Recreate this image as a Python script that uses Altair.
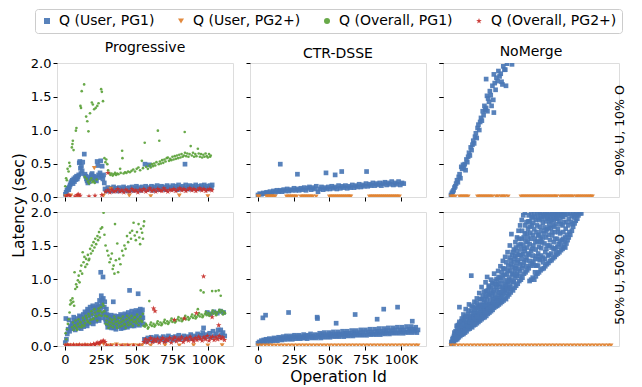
import altair as alt
import pandas as pd

# ---------------- categories / labels ----------------
SERIES = ["Q (User, PG1)", "Q (User, PG2+)", "Q (Overall, PG1)", "Q (Overall, PG2+)"]
APPROACHES = ["Progressive", "CTR-DSSE", "NoMerge"]
WORKLOADS = ["90% U, 10% O", "50% U, 50% O"]
X_TICKS = [0, 25, 50, 75, 100]          # operation id, thousands
Y_TICKS = [0.0, 0.5, 1.0, 1.5, 2.0]     # latency, seconds

# ---------------- data: (operation id in K, latency in sec) ----------------
# Progressive, 90% U 10% O
PROG90_USER_PG1 = [
    (0.3, 0.04), (0.8, 0.07), (1.4, 0.1), (2.0, 0.13), (2.6, 0.11), (3.1, 0.15), (3.6, 0.18), (4.1, 0.21),
    (4.6, 0.23), (5.1, 0.25), (5.6, 0.2), (6.1, 0.27), (6.6, 0.23), (7.1, 0.29), (7.6, 0.26), (8.1, 0.31),
    (8.6, 0.27), (9.1, 0.3), (9.6, 0.33), (10.0, 0.51), (10.4, 0.53), (10.8, 0.43), (11.1, 0.35), (11.5, 0.46),
    (12.0, 0.39), (12.4, 0.52), (13.5, 0.64), (14.0, 0.34), (14.5, 0.31), (15.0, 0.27), (15.5, 0.24), (16.0, 0.21),
    (16.5, 0.26), (17.0, 0.23), (17.5, 0.3), (18.0, 0.27), (18.5, 0.33), (19.0, 0.35), (19.5, 0.29), (20.0, 0.31),
    (20.5, 0.27), (21.0, 0.26), (21.5, 0.3), (22.0, 0.24), (22.5, 0.53), (23.0, 0.47), (23.5, 0.33), (24.0, 0.29),
    (24.5, 0.36), (25.0, 0.54), (25.5, 0.31), (26.0, 0.46), (26.5, 0.27), (27.0, 0.33), (27.5, 0.21),
    (28.0, 0.12), (29.0, 0.09), (30.0, 0.14), (31.0, 0.1), (32.0, 0.13), (33.0, 0.09), (34.0, 0.15), (35.0, 0.11),
    (36.0, 0.13), (37.0, 0.09), (38.0, 0.14), (39.0, 0.1), (40.0, 0.12), (41.0, 0.15), (42.0, 0.1), (43.0, 0.13),
    (44.0, 0.09), (45.0, 0.14), (46.0, 0.11), (47.0, 0.15), (48.0, 0.1), (49.0, 0.13), (50.0, 0.16), (51.0, 0.11),
    (52.0, 0.14), (53.0, 0.1), (54.0, 0.15), (55.0, 0.12), (56.0, 0.49), (56.5, 0.16), (57.5, 0.11), (58.5, 0.14),
    (59.0, 0.48), (59.5, 0.12), (60.5, 0.16), (61.5, 0.1), (62.5, 0.15), (63.5, 0.12), (64.5, 0.17), (65.5, 0.11),
    (66.5, 0.14), (67.5, 0.16), (68.5, 0.12), (69.5, 0.15), (70.5, 0.11), (71.5, 0.17), (72.5, 0.13), (73.5, 0.15),
    (74.5, 0.12), (75.5, 0.17), (76.5, 0.13), (77.5, 0.16), (78.5, 0.11), (79.5, 0.18), (80.5, 0.14), (81.5, 0.12),
    (82.5, 0.16), (83.5, 0.13), (84.0, 0.49), (84.5, 0.18), (85.5, 0.12), (86.5, 0.15), (87.5, 0.17), (88.5, 0.12),
    (89.5, 0.16), (90.5, 0.14), (91.5, 0.18), (92.5, 0.13), (93.5, 0.16), (94.5, 0.12), (95.5, 0.17), (96.5, 0.14),
    (97.5, 0.18), (98.5, 0.13), (99.5, 0.16), (100.5, 0.12), (101.5, 0.17), (102.5, 0.14), (103.0, 0.18),
]
PROG90_USER_PG2 = [
    (0.5, 0.01), (4.0, 0.02), (9.0, 0.01), (20.5, 0.43), (27.0, 0.02), (32.0, 0.12), (45.0, 0.02),
    (60.0, 0.01), (80.0, 0.02), (100.0, 0.01),
]
PROG90_OVERALL_PG1 = [
    (0.2, 0.16), (0.8, 0.28), (1.3, 0.25), (1.8, 0.42), (2.5, 0.38), (3.0, 0.51), (3.5, 0.46), (4.8, 0.74),
    (5.2, 0.79), (5.5, 0.84), (6.0, 0.7), (7.6, 0.99), (8.0, 1.03), (10.8, 1.36), (11.2, 1.33), (11.7, 1.58),
    (13.4, 1.68), (14.8, 1.2), (15.6, 1.13), (16.4, 0.98), (17.5, 1.25), (18.8, 1.41), (19.5, 1.38), (20.4, 1.31),
    (21.5, 1.33), (22.6, 1.36), (23.5, 1.4), (25.3, 1.61), (25.8, 1.57), (26.6, 1.43),
    (13.8, 0.3), (15.2, 0.27), (16.0, 0.23), (16.8, 0.2), (17.6, 0.25), (18.4, 0.28), (19.2, 0.22), (20.0, 0.24),
    (20.8, 0.21), (22.2, 0.26),
    (27.6, 0.58), (28.3, 0.52), (28.9, 0.56), (29.6, 0.49), (30.2, 0.4), (31.0, 0.36), (31.8, 0.33), (32.6, 0.35),
    (33.4, 0.32), (34.2, 0.34), (35.0, 0.36), (35.8, 0.33), (36.6, 0.35), (37.4, 0.34), (38.6, 0.42), (39.0, 0.36),
    (40.0, 0.69), (40.2, 0.58), (41.0, 0.35), (42.0, 0.37), (43.0, 0.36), (44.2, 0.38), (45.4, 0.37), (46.6, 0.39),
    (47.8, 0.41), (49.0, 0.38), (50.2, 0.42), (51.4, 0.44), (52.6, 0.4), (53.8, 0.54), (54.6, 0.43), (55.8, 0.81),
    (56.8, 0.45), (58.0, 0.42), (59.2, 0.47),
    (60.0, 0.44), (60.8, 0.49), (61.6, 0.46), (62.4, 0.5), (63.2, 0.47), (64.0, 0.52), (65.0, 0.99), (65.6, 0.49),
    (66.0, 0.84), (66.4, 0.53), (67.2, 0.5), (68.0, 0.55), (68.8, 0.51), (69.6, 0.56), (70.4, 0.53), (71.2, 0.58),
    (72.0, 0.59), (72.8, 0.54), (73.6, 0.57), (74.4, 0.55), (75.2, 0.6), (76.0, 0.56), (76.8, 0.61), (77.6, 0.57),
    (78.4, 0.62), (79.2, 0.58), (80.0, 0.63), (80.8, 0.59), (81.6, 0.64), (82.4, 0.6), (83.2, 0.62), (83.8, 0.97),
    (84.0, 0.66), (84.8, 0.61), (85.6, 0.65), (86.4, 0.6), (87.2, 0.64), (88.0, 0.76), (88.8, 0.62), (89.6, 0.66),
    (90.4, 0.6), (91.2, 0.64), (92.0, 0.61), (93.0, 0.72), (93.6, 0.65), (94.4, 0.6), (95.2, 0.64), (96.0, 0.59),
    (96.8, 0.63), (97.6, 0.6), (98.4, 0.65), (99.2, 0.61), (100.0, 0.59), (100.8, 0.64), (101.6, 0.6), (102.0, 0.62),
]
PROG90_OVERALL_PG2 = [
    (0.8, 0.01), (2.2, 0.03), (3.4, 0.02), (7.0, 0.01), (8.6, 0.03), (9.6, 0.04), (10.6, 0.02), (16.8, 0.01),
    (21.0, 0.02), (25.8, 0.03), (30.0, 0.36),
    (28.4, 0.08), (30.0, 0.1), (31.4, 0.07), (32.8, 0.11), (34.2, 0.08), (35.6, 0.09), (37.0, 0.12), (38.4, 0.08),
    (39.8, 0.1), (41.2, 0.07), (42.6, 0.11), (44.0, 0.09), (45.4, 0.08), (46.8, 0.12), (48.2, 0.09), (49.6, 0.1),
    (51.0, 0.07), (52.4, 0.11), (53.8, 0.09), (55.2, 0.12), (56.6, 0.08), (58.0, 0.1), (59.4, 0.13), (60.8, 0.09),
    (62.2, 0.11), (63.6, 0.08), (65.0, 0.12), (66.4, 0.1), (67.8, 0.09), (69.2, 0.13), (70.6, 0.1), (72.0, 0.08),
    (73.4, 0.11), (74.8, 0.1), (76.2, 0.12), (77.6, 0.09), (79.0, 0.11), (80.4, 0.13), (81.8, 0.1), (83.2, 0.12),
    (84.6, 0.09), (86.0, 0.11), (87.4, 0.13), (88.8, 0.1), (90.2, 0.12), (91.6, 0.09), (93.0, 0.11), (94.4, 0.13),
    (95.8, 0.1), (97.2, 0.12), (98.6, 0.09), (100.0, 0.11), (101.4, 0.12), (102.8, 0.1),
]

# Progressive, 50% U 50% O
PROG50_USER_PG1 = [
    (0.2, 0.05), (0.6, 0.41), (1.0, 0.1), (1.6, 0.18), (2.2, 0.25), (2.8, 0.39), (3.2, 0.22), (3.8, 0.3),
    (4.4, 0.27), (5.0, 0.34), (5.6, 0.31), (6.2, 0.38), (6.8, 0.29), (7.4, 0.35), (8.0, 0.32), (8.6, 0.41),
    (9.2, 0.3), (9.8, 0.37), (10.4, 0.33), (11.0, 0.43), (11.6, 0.31), (12.2, 0.39), (12.8, 0.47), (13.4, 0.35),
    (14.0, 0.51), (14.6, 0.4), (15.2, 0.33), (15.8, 0.55), (16.4, 0.44), (17.0, 0.37), (17.6, 0.58), (18.2, 0.46),
    (18.8, 0.39), (19.4, 0.6), (20.0, 0.48), (20.6, 0.4), (21.2, 0.56), (21.8, 0.43), (22.4, 0.62), (23.0, 0.5),
    (23.6, 0.41), (24.2, 0.68), (24.8, 0.55), (25.4, 0.75), (25.0, 1.1), (26.0, 0.62), (26.6, 1.03), (26.8, 0.71),
    (27.2, 0.48), (27.8, 0.66), (28.4, 0.4), (29.0, 0.55), (29.6, 0.33), (30.2, 0.45), (30.8, 0.29), (31.4, 0.4),
    (32.0, 0.35), (32.6, 0.27), (33.2, 0.43), (33.8, 0.66), (34.4, 0.31), (35.0, 0.38), (35.6, 0.25), (36.2, 0.42),
    (36.8, 0.34), (37.4, 0.29), (38.0, 0.44), (38.6, 0.36), (39.2, 0.26), (39.8, 0.4), (40.4, 0.33), (41.0, 0.45),
    (41.6, 0.28), (42.2, 0.38), (42.8, 0.35), (43.4, 0.46), (44.0, 0.3), (44.6, 0.41), (45.2, 0.83), (45.8, 0.36),
    (46.4, 0.47), (47.0, 0.3), (47.6, 0.43), (48.2, 0.38), (48.8, 0.5), (49.4, 0.32), (50.0, 0.45), (50.6, 0.39),
    (51.2, 0.78), (51.8, 0.52), (52.4, 0.35), (53.0, 0.48), (53.6, 0.41), (54.2, 0.54), (54.8, 0.33),
    (55.6, 0.1), (56.8, 0.07), (58.0, 0.12), (59.2, 0.09), (60.4, 0.13), (61.6, 0.08), (62.8, 0.11), (64.0, 0.14),
    (65.2, 0.09), (66.4, 0.12), (67.6, 0.1), (68.8, 0.14), (70.0, 0.08), (71.2, 0.12), (72.4, 0.15), (73.6, 0.1),
    (74.8, 0.13), (76.0, 0.09), (77.2, 0.14), (78.4, 0.11), (79.6, 0.16), (80.8, 0.1), (82.0, 0.13), (83.2, 0.15),
    (84.4, 0.11), (85.6, 0.14), (86.8, 0.12), (88.0, 0.17), (89.2, 0.11), (90.4, 0.15), (91.6, 0.13), (92.8, 0.18),
    (94.0, 0.12), (95.2, 0.16), (96.4, 0.2), (97.0, 0.27), (97.6, 0.13), (98.8, 0.17), (99.6, 0.5), (100.0, 0.14),
    (101.2, 0.19), (101.8, 0.48), (102.4, 0.13), (103.6, 0.22), (104.2, 0.51), (104.8, 0.15), (106.0, 0.18),
    (106.6, 0.49), (107.2, 0.24), (108.4, 0.14), (108.8, 0.52), (109.0, 0.24), (109.6, 0.17), (110.6, 0.2),
    (111.0, 0.5), (111.8, 0.15),
]
PROG50_USER_PG1_DENSE = [
    (5.3, 0.26), (6.1, 0.43), (7.1, 0.24), (7.9, 0.36), (9.5, 0.27), (10.1, 0.45), (11.3, 0.26), (12.5, 0.34),
    (13.1, 0.29), (13.8, 0.42), (14.9, 0.48), (15.5, 0.3), (16.1, 0.52), (16.9, 0.34), (17.3, 0.49), (18.5, 0.36),
    (19.1, 0.52), (19.8, 0.33), (20.4, 0.57), (21.5, 0.37), (22.1, 0.52), (22.7, 0.45), (23.3, 0.58), (23.9, 0.38),
    (24.5, 0.6), (25.1, 0.48), (25.7, 0.68), (26.3, 0.42), (27.5, 0.58), (28.1, 0.5), (28.7, 0.36), (29.3, 0.47),
    (29.9, 0.28), (30.5, 0.38), (31.1, 0.42), (31.7, 0.3), (32.3, 0.46), (32.9, 0.33), (33.5, 0.37), (34.1, 0.27),
    (34.7, 0.45), (35.3, 0.33), (35.9, 0.4), (36.5, 0.3), (37.1, 0.44), (37.7, 0.36), (38.3, 0.31), (38.9, 0.47),
    (39.5, 0.35), (40.1, 0.42), (40.7, 0.27), (41.3, 0.36), (41.9, 0.48), (42.5, 0.32), (43.1, 0.41), (43.7, 0.28),
    (44.3, 0.5), (44.9, 0.35), (45.5, 0.43), (46.1, 0.31), (46.7, 0.52), (47.3, 0.37), (47.9, 0.46), (48.5, 0.3),
    (49.1, 0.44), (49.7, 0.53), (50.3, 0.36), (50.9, 0.49), (51.5, 0.42), (52.1, 0.31), (52.7, 0.55), (53.3, 0.38),
    (53.9, 0.47), (54.5, 0.42),
]
PROG50_USER_PG2 = [
    (0.5, 0.005), (3.0, 0.01), (6.0, 0.005), (9.0, 0.01), (12.0, 0.005), (15.0, 0.01), (18.0, 0.005),
    (21.0, 0.01), (24.0, 0.02), (27.0, 0.03), (30.0, 0.005), (33.0, 0.01), (36.0, 0.02), (39.0, 0.005),
    (42.0, 0.01), (45.0, 0.005), (48.0, 0.01), (51.0, 0.005), (54.0, 0.01), (60.0, 0.005), (70.0, 0.01),
    (80.0, 0.005), (90.0, 0.01), (100.0, 0.005), (110.0, 0.01),
]
PROG50_OVERALL_PG1 = [
    (0.4, 0.19), (0.9, 0.1), (1.4, 0.25), (2.0, 0.33), (2.6, 0.4), (3.2, 0.5), (3.6, 0.62), (4.0, 0.68),
    (4.6, 0.64), (5.2, 0.71), (5.8, 0.66), (6.4, 0.6), (6.7, 1.1), (7.2, 0.85), (7.8, 0.92), (8.4, 0.88),
    (9.0, 0.98), (9.6, 1.05), (10.2, 0.95), (10.8, 1.12), (11.4, 1.2), (12.0, 1.08), (12.4, 1.4), (13.0, 1.25),
    (13.6, 1.33), (14.2, 1.18), (14.8, 1.3), (15.4, 1.22), (16.0, 1.36), (16.6, 1.28), (17.0, 1.3), (17.6, 1.45),
    (18.2, 1.38), (18.8, 1.5), (19.4, 1.42), (20.0, 1.55), (20.6, 1.47), (21.2, 1.6), (21.8, 1.52), (22.7, 1.64),
    (23.2, 1.58), (23.8, 1.7), (24.4, 1.62), (25.0, 1.75), (26.0, 1.77), (27.0, 1.99), (27.6, 1.66), (28.4, 1.5),
    (29.6, 1.42), (30.4, 1.35), (31.2, 1.25), (32.0, 1.3), (32.8, 1.38), (33.4, 1.15), (34.0, 1.2), (34.6, 1.08),
    (35.0, 1.82), (35.6, 1.28), (36.6, 1.53), (37.2, 1.1), (38.0, 1.3), (38.8, 1.22), (40.0, 1.42), (40.8, 1.35),
    (41.6, 1.5), (42.4, 1.45), (43.4, 1.64), (44.2, 1.55), (45.5, 1.69), (46.2, 1.6), (47.0, 1.72), (48.0, 1.84),
    (48.8, 1.65), (49.6, 1.58), (50.4, 1.7), (51.5, 1.82), (52.0, 1.62), (52.6, 1.52), (53.2, 1.75), (54.0, 1.69),
    (54.6, 1.6), (55.0, 1.79), (55.4, 1.86),
    (5.0, 0.28), (6.0, 0.24), (7.0, 0.3), (8.0, 0.27), (9.0, 0.33), (10.0, 0.29), (11.0, 0.35), (12.0, 0.31),
    (13.0, 0.38), (14.0, 0.34), (15.0, 0.42), (16.0, 0.36), (17.0, 0.44), (18.0, 0.39), (19.0, 0.47), (20.0, 0.41),
    (21.0, 0.5), (22.0, 0.44), (23.0, 0.52), (24.0, 0.46), (25.0, 0.58), (26.0, 0.5), (27.0, 0.6), (28.0, 0.45),
    (29.0, 0.38), (30.0, 0.32), (31.0, 0.36), (32.0, 0.3), (33.0, 0.39), (34.0, 0.33), (35.0, 0.4), (36.0, 0.31),
    (37.0, 0.37), (38.0, 0.34), (39.0, 0.41), (40.0, 0.3), (41.0, 0.38), (42.0, 0.32), (43.0, 0.4), (44.0, 0.35),
    (45.0, 0.42), (46.0, 0.33), (47.0, 0.39), (48.0, 0.36), (49.0, 0.43), (50.0, 0.34), (51.0, 0.4), (52.0, 0.37),
    (53.0, 0.44), (54.0, 0.36), (55.0, 0.3),
    (56.0, 0.29), (57.2, 0.31), (58.4, 0.28), (59.0, 0.67), (59.6, 0.32), (60.8, 0.3), (62.0, 0.33), (63.2, 0.31),
    (64.4, 0.34), (65.6, 0.32), (66.8, 0.35), (68.0, 0.33), (69.2, 0.36), (70.4, 0.34), (71.6, 0.37), (72.8, 0.35),
    (74.0, 0.38), (75.2, 0.36), (76.4, 0.39), (77.6, 0.37), (78.8, 0.4), (80.0, 0.38), (81.2, 0.41), (82.4, 0.39),
    (83.6, 0.42), (84.8, 0.4), (86.0, 0.43), (87.2, 0.41), (88.4, 0.44), (89.6, 0.42), (90.8, 0.45), (92.0, 0.43),
    (93.0, 0.55), (93.2, 0.46), (94.4, 0.44), (95.0, 0.83), (95.6, 0.47), (96.8, 0.45), (97.0, 0.8), (98.0, 0.48),
    (99.2, 0.46), (100.4, 0.49), (101.6, 0.47), (102.8, 0.5), (103.0, 0.82), (104.0, 0.48), (105.2, 0.51),
    (105.5, 0.82), (106.4, 0.49), (107.6, 0.83), (107.8, 0.52), (108.8, 0.5), (109.0, 0.75), (110.0, 0.53),
    (111.2, 0.51), (112.0, 0.49),
]
PROG50_OVERALL_PG1_DENSE = [
    (5.5, 0.35), (6.5, 0.31), (7.5, 0.38), (8.5, 0.24), (9.5, 0.4), (10.5, 0.36), (11.5, 0.28), (12.5, 0.42),
    (13.5, 0.3), (14.5, 0.45), (15.5, 0.38), (16.5, 0.48), (17.5, 0.34), (18.5, 0.52), (19.5, 0.4), (20.5, 0.55),
    (21.5, 0.45), (22.5, 0.38), (23.5, 0.56), (24.5, 0.52), (25.5, 0.45), (26.5, 0.63), (27.5, 0.52), (28.5, 0.33),
    (29.5, 0.44), (30.5, 0.27), (31.5, 0.41), (32.5, 0.35), (33.5, 0.28), (34.5, 0.44), (35.5, 0.36), (36.5, 0.27),
    (37.5, 0.42), (38.5, 0.29), (39.5, 0.36), (40.5, 0.44), (41.5, 0.33), (42.5, 0.27), (43.5, 0.45), (44.5, 0.31),
    (45.5, 0.38), (46.5, 0.45), (47.5, 0.3), (48.5, 0.42), (49.5, 0.37), (50.5, 0.47), (51.5, 0.31), (52.5, 0.43),
    (53.5, 0.38), (54.5, 0.48),
    (56.6, 0.33), (58.0, 0.26), (60.2, 0.35), (62.6, 0.29), (64.9, 0.37), (67.4, 0.31), (69.8, 0.39), (72.2, 0.33),
    (74.6, 0.41), (77.0, 0.35), (79.4, 0.43), (81.8, 0.37), (84.2, 0.45), (86.6, 0.39), (89.0, 0.47), (91.4, 0.41),
    (93.8, 0.49), (96.2, 0.43), (98.6, 0.51), (101.0, 0.45), (103.4, 0.53), (105.8, 0.46), (108.2, 0.54),
    (110.6, 0.47),
]
PROG50_OVERALL_PG2 = [
    (0.5, 0.01), (2.0, 0.02), (4.0, 0.01), (6.0, 0.02), (8.0, 0.01), (10.0, 0.02), (12.0, 0.01), (14.0, 0.02),
    (16.0, 0.01), (18.0, 0.02), (20.0, 0.03), (21.0, 0.02), (22.0, 0.04), (23.0, 0.05), (24.0, 0.04), (25.0, 0.06),
    (26.0, 0.07), (27.0, 0.08), (28.0, 0.06), (29.0, 0.01), (32.0, 0.005), (36.0, 0.01), (40.0, 0.005),
    (44.0, 0.01), (48.0, 0.005), (52.0, 0.01),
    (55.2, 0.06), (56.4, 0.1), (57.6, 0.05), (58.8, 0.09), (60.0, 0.12), (61.2, 0.06), (62.0, 0.56), (62.4, 0.1),
    (63.0, 0.52), (63.6, 0.07), (64.8, 0.11), (66.0, 0.05), (67.2, 0.09), (68.4, 0.12), (69.6, 0.06), (70.8, 0.1),
    (72.0, 0.08), (73.2, 0.12), (74.4, 0.05), (75.6, 0.1), (76.6, 0.39), (76.8, 0.13), (78.0, 0.07), (79.2, 0.11),
    (80.4, 0.09), (81.6, 0.13), (82.8, 0.06), (83.5, 0.41), (84.0, 0.1), (85.2, 0.12), (86.4, 0.08), (87.6, 0.14),
    (88.8, 0.1), (90.0, 0.07), (91.2, 0.12), (92.0, 0.49), (92.4, 0.09), (93.6, 0.14), (94.8, 0.11), (96.0, 0.08),
    (97.0, 1.04), (97.2, 0.13), (98.4, 0.1), (99.6, 0.15), (100.8, 0.08), (102.0, 0.12), (103.0, 0.43),
    (103.2, 0.14), (104.4, 0.09), (105.6, 0.13), (106.8, 0.1), (107.6, 0.31), (108.0, 0.15), (109.2, 0.11),
    (110.4, 0.13), (111.6, 0.09),
]

# CTR-DSSE, 90% U 10% O
CTR90_USER_PG1 = [
    (0.0, 0.03), (1.2, 0.05), (2.4, 0.04), (3.6, 0.06), (4.8, 0.05), (6.0, 0.07), (7.2, 0.05), (8.4, 0.08),
    (9.6, 0.06), (10.8, 0.09), (12.0, 0.07), (13.2, 0.1), (14.4, 0.08), (15.6, 0.49), (15.6, 0.1), (16.8, 0.08),
    (18.0, 0.11), (19.2, 0.09), (20.4, 0.12), (21.6, 0.09), (22.8, 0.11), (24.0, 0.1), (25.2, 0.13), (26.4, 0.1),
    (27.6, 0.34), (27.6, 0.12), (28.8, 0.1), (30.0, 0.13), (31.2, 0.11), (32.4, 0.14), (33.6, 0.1), (34.8, 0.13),
    (36.0, 0.15), (37.2, 0.11), (38.4, 0.14), (39.6, 0.12), (40.8, 0.16), (42.0, 0.08), (43.2, 0.12), (44.4, 0.15),
    (45.6, 0.11), (46.8, 0.14), (47.6, 0.36), (48.0, 0.12), (49.2, 0.15), (50.4, 0.12), (51.6, 0.16), (52.8, 0.13),
    (54.0, 0.33), (54.0, 0.15), (55.2, 0.12), (56.4, 0.17), (57.6, 0.13), (58.6, 0.38), (58.8, 0.16), (60.0, 0.14),
    (61.2, 0.17), (62.4, 0.13), (63.6, 0.16), (64.8, 0.14), (66.0, 0.18), (67.2, 0.14), (68.4, 0.17), (69.6, 0.15),
    (70.8, 0.19), (72.0, 0.15), (73.2, 0.18), (74.4, 0.16), (75.6, 0.2), (76.0, 0.38), (76.8, 0.16), (78.0, 0.19),
    (79.2, 0.17), (80.4, 0.21), (81.6, 0.17), (82.8, 0.2), (84.0, 0.18), (85.2, 0.21), (86.4, 0.17), (87.6, 0.2),
    (88.8, 0.22), (90.0, 0.18), (91.2, 0.21), (92.4, 0.19), (93.6, 0.23), (94.8, 0.18), (96.0, 0.21), (97.2, 0.19),
    (98.4, 0.23), (99.6, 0.18), (100.8, 0.21), (102.0, 0.2),
]
CTR90_USER_PG2 = [
    (0.0, 0.005), (0.8, 0.005), (6.0, 0.005), (7.2, 0.005), (8.4, 0.005), (9.6, 0.005), (10.8, 0.005),
    (12.0, 0.005), (20.0, 0.005), (21.4, 0.005), (22.8, 0.005), (24.2, 0.005), (25.6, 0.005), (27.0, 0.005),
    (30.0, 0.005), (31.4, 0.005), (32.8, 0.005), (34.2, 0.005), (35.6, 0.005), (37.0, 0.005), (38.4, 0.005),
    (40.7, 0.005), (50.0, 0.005), (51.4, 0.005), (52.8, 0.005), (54.2, 0.005), (55.6, 0.005), (57.0, 0.005),
    (58.4, 0.005), (59.8, 0.005), (61.2, 0.005), (62.6, 0.005), (64.0, 0.005), (65.0, 0.005), (78.0, 0.005),
    (79.4, 0.005), (80.8, 0.005), (82.2, 0.005), (83.6, 0.005), (85.0, 0.005), (86.4, 0.005), (87.8, 0.005),
    (89.2, 0.005), (90.6, 0.005), (92.0, 0.005), (93.4, 0.005), (94.8, 0.005), (96.2, 0.005), (97.6, 0.005),
    (99.0, 0.005),
]

# CTR-DSSE, 50% U 50% O
CTR50_USER_PG1 = [
    (0.0, 0.04), (0.8, 0.06), (1.6, 0.05), (2.4, 0.08), (3.2, 0.06), (3.4, 0.42), (4.0, 0.09), (4.8, 0.07),
    (5.3, 0.46), (5.6, 0.1), (6.4, 0.06), (7.2, 0.09), (8.0, 0.11), (8.8, 0.07), (9.6, 0.1), (10.4, 0.08),
    (11.2, 0.12), (12.0, 0.09), (12.8, 0.11), (13.6, 0.08), (14.4, 0.13), (15.2, 0.1), (16.0, 0.12), (16.8, 0.09),
    (17.6, 0.14), (18.4, 0.1), (19.2, 0.12), (20.0, 0.15), (20.8, 0.1), (21.4, 0.5), (21.6, 0.13), (22.4, 0.11),
    (23.2, 0.15), (24.0, 0.1), (24.8, 0.13), (25.6, 0.16), (26.4, 0.11), (27.2, 0.14), (28.0, 0.12), (28.8, 0.16),
    (29.6, 0.11), (30.4, 0.14), (31.2, 0.12), (32.0, 0.17), (32.8, 0.12), (33.6, 0.15), (34.4, 0.11), (35.2, 0.16),
    (36.0, 0.13), (36.8, 0.18), (37.6, 0.12), (38.4, 0.15), (39.2, 0.13), (40.0, 0.17), (40.8, 0.12), (41.4, 0.43),
    (41.6, 0.41), (41.8, 0.16), (42.4, 0.14), (43.2, 0.19), (44.0, 0.12), (44.8, 0.17), (45.6, 0.14), (46.4, 0.2),
    (47.2, 0.13), (48.0, 0.17), (48.8, 0.14), (49.6, 0.2), (50.4, 0.13), (51.2, 0.18), (52.0, 0.15), (52.8, 0.21),
    (53.6, 0.14), (54.4, 0.18), (54.7, 0.34), (55.2, 0.15), (56.0, 0.21), (56.8, 0.14), (57.6, 0.18), (58.4, 0.16),
    (59.2, 0.22), (60.0, 0.14), (60.8, 0.19), (61.6, 0.16), (62.4, 0.22), (63.2, 0.15), (64.0, 0.19), (64.8, 0.16),
    (65.6, 0.23), (66.4, 0.15), (67.2, 0.2), (68.0, 0.47), (68.0, 0.17), (68.8, 0.23), (69.6, 0.16), (70.4, 0.2),
    (71.2, 0.17), (72.0, 0.24), (72.8, 0.16), (73.6, 0.21), (74.4, 0.17), (75.2, 0.24), (76.0, 0.16), (76.8, 0.21),
    (77.6, 0.18), (78.4, 0.25), (79.2, 0.17), (80.0, 0.21), (80.8, 0.18), (81.6, 0.25), (82.4, 0.17), (83.2, 0.22),
    (83.4, 0.4), (84.0, 0.19), (84.8, 0.26), (85.6, 0.17), (86.4, 0.22), (87.2, 0.19), (88.0, 0.55), (88.0, 0.26),
    (88.8, 0.18), (89.6, 0.23), (90.4, 0.2), (91.2, 0.27), (92.0, 0.18), (92.8, 0.23), (93.6, 0.2), (94.4, 0.27),
    (95.2, 0.19), (96.0, 0.24), (96.8, 0.2), (97.6, 0.28), (97.7, 0.58), (98.4, 0.19), (99.2, 0.24), (100.0, 0.21),
    (100.8, 0.28), (101.6, 0.19), (102.4, 0.24), (103.2, 0.21), (104.0, 0.29), (104.8, 0.2), (105.6, 0.25),
    (106.4, 0.22), (107.2, 0.29), (108.0, 0.37), (108.0, 0.2), (108.8, 0.25), (109.6, 0.22), (110.4, 0.28),
    (111.2, 0.2), (112.0, 0.24),
]
CTR50_USER_PG2 = [
    (0.0, 0.005), (2.5, 0.005), (5.0, 0.005), (7.5, 0.005), (10.0, 0.005), (12.5, 0.005), (15.0, 0.005),
    (17.5, 0.005), (20.0, 0.005), (22.5, 0.005), (25.0, 0.005), (27.5, 0.005), (30.0, 0.005), (32.5, 0.005),
    (35.0, 0.005), (37.5, 0.005), (40.0, 0.005), (42.5, 0.005), (45.0, 0.005), (47.5, 0.005), (50.0, 0.005),
    (52.5, 0.005), (55.0, 0.005), (57.5, 0.005), (60.0, 0.005), (62.5, 0.005), (65.0, 0.005), (67.5, 0.005),
    (70.0, 0.005), (72.5, 0.005), (75.0, 0.005), (77.5, 0.005), (80.0, 0.005), (82.5, 0.005), (85.0, 0.005),
    (87.5, 0.005), (90.0, 0.005), (92.5, 0.005), (95.0, 0.005), (97.5, 0.005), (100.0, 0.005), (102.5, 0.005),
    (105.0, 0.005), (107.5, 0.005), (110.0, 0.005), (112.0, 0.005),
]

# NoMerge, 90% U 10% O
NOMERGE90_USER_PG1 = [
    (0.0, 0.03), (0.6, 0.06), (1.2, 0.08), (1.8, 0.1), (2.4, 0.14), (3.0, 0.16), (3.6, 0.2), (4.2, 0.25),
    (4.8, 0.22), (5.4, 0.3), (6.0, 0.34), (6.6, 0.28), (7.2, 0.45), (7.8, 0.42), (8.4, 0.48), (9.0, 0.44),
    (9.6, 0.49), (10.2, 0.4), (10.8, 0.56), (11.4, 0.52), (12.0, 0.6), (12.6, 0.66), (13.2, 0.62), (13.8, 0.74),
    (14.4, 0.7), (15.0, 0.78), (15.6, 0.84), (16.2, 0.8), (16.8, 0.9), (17.4, 0.95), (18.0, 0.88), (18.6, 1.03),
    (19.2, 1.08), (19.8, 1.0), (20.4, 1.12), (21.0, 1.18), (21.6, 1.14), (22.2, 1.28), (22.8, 1.22), (23.4, 1.36),
    (24.0, 1.3), (24.6, 1.33), (24.6, 1.76), (25.2, 1.51), (25.5, 1.28), (26.0, 1.47), (26.6, 1.42), (27.2, 1.58),
    (27.8, 1.52), (28.4, 1.36), (29.0, 1.66), (29.6, 1.45), (30.0, 1.83), (30.0, 1.26), (30.6, 1.7), (31.2, 1.6),
    (31.8, 1.78), (32.6, 1.73), (33.2, 1.88), (34.0, 1.8), (34.8, 1.84), (35.4, 1.72), (36.0, 1.68), (36.6, 1.95),
    (37.4, 1.9), (38.0, 1.9), (38.5, 1.66), (39.2, 1.99), (42.7, 1.98),
]
NOMERGE90_USER_PG2 = [
    (0.0, 0.005), (1.5, 0.005), (3.0, 0.005), (6.0, 0.005), (7.5, 0.005), (9.0, 0.005), (10.5, 0.005),
    (12.0, 0.005), (18.6, 0.005), (20.0, 0.005), (21.5, 0.005), (23.0, 0.005), (24.5, 0.005), (26.0, 0.005),
    (27.5, 0.005), (29.0, 0.005), (31.5, 0.005), (33.0, 0.005), (35.0, 0.005), (36.5, 0.005), (38.0, 0.005),
    (40.0, 0.005), (49.0, 0.005), (50.5, 0.005), (52.0, 0.005), (53.5, 0.005), (55.0, 0.005), (56.5, 0.005),
    (58.0, 0.005), (59.5, 0.005), (61.0, 0.005), (62.5, 0.005), (64.0, 0.005), (65.5, 0.005), (67.0, 0.005),
    (68.5, 0.005), (70.0, 0.005), (71.5, 0.005), (73.0, 0.005), (74.0, 0.005), (76.5, 0.005), (78.0, 0.005),
    (79.5, 0.005), (81.0, 0.005), (82.5, 0.005), (84.0, 0.005), (85.5, 0.005), (87.6, 0.005), (89.0, 0.005),
    (90.5, 0.005), (92.0, 0.005), (93.5, 0.005), (95.0, 0.005), (96.5, 0.005), (98.0, 0.005), (99.0, 0.005),
]

# NoMerge, 50% U 50% O
NOMERGE50_USER_PG1 = [
    (0.3, 0.03), (0.3, 0.06), (0.9, 0.05), (1.4, 0.08), (1.4, 0.12), (2.1, 0.07), (2.1, 0.15), (2.7, 0.1),
    (2.7, 0.18), (3.2, 0.09), (3.2, 0.22), (3.2, 0.14), (3.9, 0.12), (3.9, 0.2), (4.3, 0.1), (4.3, 0.27),
    (4.8, 0.16), (4.8, 0.31), (5.4, 0.13), (5.4, 0.24), (5.9, 0.19), (5.9, 0.36), (5.9, 0.58), (6.5, 0.15),
    (6.5, 0.29), (7.0, 0.22), (7.0, 0.33), (7.6, 0.17), (7.6, 0.41), (8.1, 0.25), (8.1, 0.2), (8.7, 0.18),
    (8.7, 0.37), (8.7, 0.47), (9.2, 0.29), (9.2, 0.23), (9.8, 0.2), (9.8, 0.43), (10.3, 0.34), (10.3, 0.26),
    (10.3, 0.55), (10.9, 0.22), (10.9, 0.31), (11.5, 0.4), (11.5, 0.27), (12.0, 0.25), (12.0, 0.48),
    (12.0, 0.34), (12.6, 0.3), (12.6, 0.62), (13.1, 0.26), (13.1, 0.39), (13.7, 0.45), (13.7, 0.33),
    (13.7, 0.29), (14.2, 1.05), (14.2, 0.52), (14.2, 0.3), (14.8, 0.37), (14.8, 0.28), (15.3, 0.44),
    (15.3, 0.58), (15.9, 0.31), (15.9, 0.4), (16.4, 0.5), (16.4, 0.35), (16.4, 0.66), (17.0, 0.32),
    (17.0, 0.46), (17.6, 0.57), (17.6, 0.38), (18.1, 0.34), (18.1, 0.71), (18.1, 0.49), (18.7, 0.42),
    (18.7, 0.6), (19.2, 0.36), (19.2, 0.53), (19.8, 0.47), (19.8, 0.79), (19.8, 0.4), (20.3, 0.38),
    (20.3, 0.62), (20.9, 0.55), (20.9, 0.44), (21.4, 0.4), (21.4, 0.7), (21.4, 0.88), (22.0, 0.5), (22.0, 0.61),
    (22.5, 0.42), (22.5, 0.57), (23.1, 0.66), (23.1, 0.47), (23.1, 0.81), (23.6, 0.43), (23.6, 0.59),
    (24.2, 0.74), (24.2, 0.52), (24.2, 0.95), (24.7, 0.45), (24.7, 0.64), (25.3, 1.03), (25.3, 0.56),
    (25.3, 0.7), (25.8, 0.48), (25.8, 0.83), (26.4, 0.62), (26.4, 0.51), (26.4, 0.9), (26.9, 0.76), (26.9, 0.5),
    (27.5, 0.55), (27.5, 0.68), (28.0, 0.86), (28.0, 0.52), (28.0, 0.99), (28.6, 0.63), (28.6, 0.74),
    (29.1, 0.54), (29.1, 0.8), (29.7, 0.92), (29.7, 0.6), (29.7, 0.7), (30.2, 0.57), (30.2, 1.08), (30.8, 0.77),
    (30.8, 0.66), (31.3, 0.59), (31.3, 0.88), (31.9, 1.0), (31.9, 0.71), (31.9, 0.62), (32.4, 0.83), (32.4, 0.6),
    (33.0, 0.65), (33.0, 1.12), (33.0, 0.93), (33.5, 0.76), (33.5, 0.62), (34.1, 0.88), (34.1, 0.69),
    (34.6, 0.64), (34.6, 1.19), (34.6, 1.02), (35.2, 0.8), (35.2, 0.72), (35.7, 0.93), (35.7, 0.66),
    (36.3, 1.27), (36.3, 0.78), (36.3, 1.05), (36.8, 0.68), (36.8, 0.87), (37.4, 0.98), (37.4, 1.15),
    (37.9, 0.72), (37.9, 0.83), (37.9, 1.33), (38.5, 0.92), (38.5, 0.7), (39.0, 1.08), (39.0, 0.79), (39.6, 1.4),
    (39.6, 0.74), (39.6, 0.96), (40.1, 0.86), (40.1, 1.2), (40.7, 0.77), (40.7, 1.02), (41.2, 1.5), (41.2, 0.92),
    (41.2, 1.12), (41.8, 0.8), (41.8, 1.28), (42.3, 1.67), (42.3, 0.99), (42.3, 0.85), (42.9, 1.18), (42.9, 1.36),
    (43.4, 0.83), (43.4, 1.06), (44.0, 1.44), (44.0, 0.95), (44.0, 1.25), (44.5, 0.87), (44.5, 1.12),
    (45.1, 1.55), (45.1, 1.02), (45.1, 1.34), (45.6, 0.9), (45.6, 1.19), (46.2, 1.62), (46.2, 1.08),
    (46.2, 1.42), (46.7, 0.93), (46.7, 1.28), (47.3, 1.15), (47.3, 1.72), (47.3, 1.5), (47.8, 0.97), (47.8, 1.36),
    (48.4, 1.22), (48.4, 1.8), (48.4, 1.05), (48.9, 1.44), (48.9, 0.99), (49.5, 1.6), (49.5, 1.3), (49.5, 1.88),
    (50.0, 1.02), (50.0, 1.16), (50.6, 1.5), (50.6, 1.95), (50.6, 1.37), (51.1, 1.08), (51.1, 1.25),
    (51.7, 1.68), (51.7, 1.42), (51.7, 1.99), (52.2, 1.1), (52.2, 1.56), (52.8, 1.32), (52.8, 1.85),
    (52.8, 1.19), (53.3, 1.47), (53.3, 1.13), (53.9, 1.75), (53.9, 1.62), (53.9, 1.38), (54.4, 1.16),
    (54.4, 1.95), (55.0, 0.97), (55.0, 1.27), (55.0, 1.52), (55.0, 1.86), (55.5, 1.2), (55.5, 1.69),
    (56.1, 0.99), (56.1, 1.42), (56.1, 1.99), (56.6, 1.23), (56.6, 1.8), (57.2, 1.02), (57.2, 1.35),
    (57.2, 1.66), (57.2, 1.92), (57.7, 1.26), (57.7, 1.5), (58.3, 0.99), (58.3, 1.74), (58.3, 1.98),
    (58.8, 1.1), (58.8, 1.3), (58.8, 1.6), (59.4, 1.04), (59.4, 1.44), (59.4, 1.88), (59.9, 1.34), (59.9, 1.7),
    (60.5, 1.08), (60.5, 1.56), (60.5, 1.97), (61.0, 1.2), (61.0, 1.38), (61.0, 1.91), (61.6, 1.1), (61.6, 1.66),
    (61.6, 1.48), (62.1, 1.28), (62.1, 1.78), (62.1, 1.99), (62.7, 1.13), (62.7, 1.6), (62.7, 1.94),
    (63.2, 1.46), (63.2, 1.72), (63.8, 1.15), (63.8, 1.98), (63.8, 1.55), (64.3, 1.32), (64.3, 1.84),
    (64.9, 1.16), (64.9, 1.68), (64.9, 1.93), (65.4, 1.53), (65.4, 1.77), (66.0, 1.19), (66.0, 1.4), (66.0, 1.97),
    (66.5, 1.62), (66.5, 1.86), (67.1, 1.22), (67.1, 1.74), (67.1, 1.99), (67.6, 1.5), (67.6, 1.9), (68.2, 1.24),
    (68.2, 1.66), (68.2, 1.95), (68.7, 1.36), (68.7, 1.82), (69.3, 1.27), (69.3, 1.58), (69.3, 1.98),
    (69.8, 1.76), (69.8, 1.92), (70.4, 1.28), (70.4, 1.47), (70.4, 1.86), (70.9, 1.65), (70.9, 1.99),
    (71.5, 1.31), (71.5, 1.8), (71.5, 1.94), (72.0, 1.55), (72.0, 1.88), (72.6, 1.33), (72.6, 1.7), (72.6, 1.99),
    (73.1, 1.46), (73.1, 1.92), (73.7, 1.36), (73.7, 1.82), (73.7, 1.97), (74.2, 1.6), (74.2, 1.9), (74.8, 1.38),
    (74.8, 1.75), (74.8, 1.99), (75.3, 1.52), (75.3, 1.95), (75.9, 1.4), (75.9, 1.86), (76.4, 1.68), (76.4, 1.98),
    (77.0, 1.43), (77.0, 1.92), (77.5, 1.58), (77.5, 1.99), (78.1, 1.45), (78.1, 1.8), (78.1, 1.96), (78.6, 1.7),
    (78.6, 1.93), (79.2, 1.48), (79.2, 1.99), (80.0, 1.47), (80.0, 1.62), (80.0, 1.96), (80.8, 1.53),
    (80.8, 1.85), (81.6, 1.58), (81.6, 1.97), (82.4, 1.62), (82.4, 1.9), (83.5, 1.66), (83.5, 1.98),
    (84.6, 1.72), (84.6, 1.94), (85.5, 1.78), (85.5, 1.99), (86.5, 1.83), (87.3, 1.87), (87.3, 1.97),
    (88.4, 1.9), (89.2, 1.95), (90.5, 1.98),
]
NOMERGE50_USER_PG1_DENSE = [
    (1.1, 0.1), (1.7, 0.06), (2.4, 0.2), (3.5, 0.17), (4.0, 0.3), (4.6, 0.12), (5.1, 0.21), (5.7, 0.33),
    (6.2, 0.2), (6.8, 0.26), (7.3, 0.37), (7.9, 0.29), (8.4, 0.23), (9.0, 0.4), (9.5, 0.33), (10.0, 0.24),
    (10.6, 0.45), (11.2, 0.35), (11.8, 0.3), (12.3, 0.53), (12.9, 0.43), (13.4, 0.36), (14.0, 0.41), (14.5, 0.6),
    (15.1, 0.33), (15.6, 0.49), (16.1, 0.43), (16.7, 0.55), (17.3, 0.4), (17.9, 0.64), (18.4, 0.45), (19.0, 0.57),
    (19.5, 0.43), (20.1, 0.7), (20.6, 0.5), (21.2, 0.6), (21.7, 0.47), (22.3, 0.75), (22.8, 0.53), (23.4, 0.69),
    (23.9, 0.5), (24.5, 0.82), (25.0, 0.6), (25.6, 0.77), (26.1, 0.55), (26.7, 0.88), (27.2, 0.62), (27.8, 0.79),
    (28.3, 0.58), (28.9, 0.94), (29.4, 0.66), (30.0, 0.84), (30.5, 0.62), (31.1, 0.97), (31.6, 0.72), (32.2, 0.91),
    (32.7, 0.68), (33.3, 1.03), (33.8, 0.8), (34.4, 0.98), (34.9, 0.74), (35.5, 1.1), (36.0, 0.86), (36.6, 1.16),
    (37.1, 0.8), (37.7, 1.06), (38.2, 0.9), (38.8, 1.25), (39.3, 0.85), (39.9, 1.13), (40.4, 0.98), (41.0, 1.32),
    (41.5, 0.88), (42.1, 1.22), (42.6, 1.08), (43.2, 1.4), (43.7, 0.96), (44.3, 1.3), (44.8, 1.16), (45.4, 1.47),
    (45.9, 1.05), (46.5, 1.36), (47.0, 1.25), (47.6, 1.6), (48.1, 1.12), (48.7, 1.52), (49.2, 1.36), (49.8, 1.72),
    (50.3, 1.2), (50.9, 1.62), (51.4, 1.45), (52.0, 1.8), (52.5, 1.28), (53.1, 1.68), (53.6, 1.55), (54.2, 1.86),
    (54.7, 1.36), (55.3, 1.78), (55.8, 1.6), (56.4, 1.92), (56.9, 1.45), (57.5, 1.84), (58.0, 1.2), (58.6, 1.93),
    (59.1, 1.55), (59.7, 1.2), (60.2, 1.8), (60.8, 1.65), (61.3, 1.3), (61.9, 1.88), (62.4, 1.55), (63.0, 1.35),
    (63.5, 1.9), (64.0, 1.62), (64.6, 1.25), (65.1, 1.95), (65.7, 1.3), (66.2, 1.72), (66.8, 1.45), (67.3, 1.93),
    (67.9, 1.35), (68.4, 1.76), (69.0, 1.5), (69.5, 1.88), (70.1, 1.38), (70.7, 1.7), (71.2, 1.97), (71.8, 1.45),
    (72.3, 1.78), (72.9, 1.6), (73.4, 1.4), (74.0, 1.9), (74.5, 1.48), (75.1, 1.7), (75.6, 1.98), (76.2, 1.56),
    (76.7, 1.82), (77.3, 1.5), (77.8, 1.94), (78.4, 1.6), (78.9, 1.85), (79.5, 1.55), (80.3, 1.75), (81.2, 1.66),
    (82.0, 1.8), (82.9, 1.7), (83.9, 1.85), (85.0, 1.82), (86.0, 1.92), (86.9, 1.95), (88.0, 1.96), (89.8, 1.99),
    (91.2, 1.98),
]
NOMERGE50_USER_PG2 = [
    (0.0, 0.005), (2.5, 0.005), (5.0, 0.005), (7.5, 0.005), (10.0, 0.005), (12.5, 0.005), (15.0, 0.005),
    (17.5, 0.005), (20.0, 0.005), (22.5, 0.005), (25.0, 0.005), (27.5, 0.005), (30.0, 0.005), (32.5, 0.005),
    (35.0, 0.005), (37.5, 0.005), (40.0, 0.005), (42.5, 0.005), (45.0, 0.005), (47.5, 0.005), (50.0, 0.005),
    (52.5, 0.005), (55.0, 0.005), (57.5, 0.005), (60.0, 0.005), (62.5, 0.005), (65.0, 0.005), (67.5, 0.005),
    (70.0, 0.005), (72.5, 0.005), (75.0, 0.005), (77.5, 0.005), (80.0, 0.005), (82.5, 0.005), (85.0, 0.005),
    (87.5, 0.005), (90.0, 0.005), (92.5, 0.005), (95.0, 0.005), (97.5, 0.005), (100.0, 0.005), (102.5, 0.005),
    (105.0, 0.005), (107.5, 0.005), (110.0, 0.005), (112.0, 0.005),
]

PANELS = [
    ("Progressive", "90% U, 10% O", [PROG90_USER_PG1, PROG90_USER_PG2, PROG90_OVERALL_PG1, PROG90_OVERALL_PG2]),
    ("CTR-DSSE", "90% U, 10% O", [CTR90_USER_PG1, CTR90_USER_PG2, [], []]),
    ("NoMerge", "90% U, 10% O", [NOMERGE90_USER_PG1, NOMERGE90_USER_PG2, [], []]),
    ("Progressive", "50% U, 50% O", [PROG50_USER_PG1 + PROG50_USER_PG1_DENSE, PROG50_USER_PG2,
                                     PROG50_OVERALL_PG1 + PROG50_OVERALL_PG1_DENSE, PROG50_OVERALL_PG2]),
    ("CTR-DSSE", "50% U, 50% O", [CTR50_USER_PG1, CTR50_USER_PG2, [], []]),
    ("NoMerge", "50% U, 50% O", [NOMERGE50_USER_PG1 + NOMERGE50_USER_PG1_DENSE, NOMERGE50_USER_PG2, [], []]),
]

# ---------------- styles ----------------
COLORS = ["#4a77b5", "#e0802e", "#5ba23a", "#c8302b"]
STAR = ("M0,-1L0.235,-0.324L0.951,-0.309L0.380,0.124L0.588,0.809L0,0.4L-0.588,0.809"
        "L-0.380,0.124L-0.951,-0.309L-0.235,-0.324Z")
SHAPES = ["square", "triangle-down", "circle", STAR]
SIZES = [22, 24, 7, 34]
FONT = "DejaVu Sans"
PANEL_W, PANEL_H = 176, 134

rows = []
for approach, workload, lists in PANELS:
    for s, pts in zip(SERIES, lists):
        for x, y in pts:
            rows.append({"approach": approach, "workload": workload, "series": s, "op": x, "lat": y})
df = pd.DataFrame(rows)

xscale = alt.Scale(domain=[-5.6, 117.6], nice=False, zero=False)
yscale = alt.Scale(domain=[0, 2], nice=False)

legend = alt.Legend(
    title=None, orient="none", legendX=-22, legendY=-54, direction="horizontal", columns=4,
    labelFontSize=14, labelFont=FONT, labelColor="black", strokeColor="#cccccc", fillColor="white",
    padding=5, cornerRadius=3, columnPadding=19, labelOffset=5, symbolStrokeWidth=0, symbolSize=36,
)


def panel(ri, ci):
    approach = APPROACHES[ci]
    workload = WORKLOADS[ri]
    sub = df[(df.approach == approach) & (df.workload == workload)]
    bottom = ri == 1
    left = ci == 0
    xaxis_kw = dict(values=X_TICKS, grid=False, domain=False, tickColor="black", tickSize=4, labels=bottom,
                    labelExpr="datum.value == 0 ? '0' : datum.value + 'K'", labelFontSize=13,
                    labelFont=FONT, labelColor="black", labelPadding=3)
    if bottom and ci == 1:
        xaxis_kw.update(title="Operation Id", titleFontSize=15.5, titleFont=FONT, titleFontWeight="normal",
                        titleColor="black", titlePadding=3)
    else:
        xaxis_kw.update(title=None)
    yaxis_kw = dict(orient="left", values=Y_TICKS, grid=False, domain=False, tickColor="black", tickSize=4,
                    labels=left, format=".1f", labelFontSize=13, labelFont=FONT, labelColor="black",
                    labelPadding=2)
    if left and ri == 0:
        yaxis_kw.update(title="Latency (sec)", titleFontSize=15.5, titleFont=FONT, titleFontWeight="normal",
                        titleColor="black", titleY=142, titlePadding=4)
    else:
        yaxis_kw.update(title=None)

    layers = []
    for s, size in zip(SERIES, SIZES):
        part = sub[sub.series == s]
        if len(part) == 0:
            continue
        layers.append(
            alt.Chart(part).mark_point(filled=True, opacity=0.92, clip=True, strokeWidth=0, size=size).encode(
                x=alt.X("op:Q", scale=xscale, axis=alt.Axis(**xaxis_kw)),
                y=alt.Y("lat:Q", scale=yscale, axis=alt.Axis(**yaxis_kw)),
                color=alt.Color("series:N", scale=alt.Scale(domain=SERIES, range=COLORS), legend=legend),
                shape=alt.Shape("series:N", scale=alt.Scale(domain=SERIES, range=SHAPES), legend=legend),
            )
        )
    if ci == 2:
        layers.append(alt.Chart(sub).mark_point(opacity=0).encode(
            x=alt.X("op:Q", scale=xscale, axis=None),
            y=alt.Y("lat:Q", scale=yscale, axis=alt.Axis(
                orient="right", title=workload, labels=False, ticks=False, domain=False, grid=False,
                titleAngle=270, titleFontSize=12.5, titleFont=FONT, titleFontWeight="normal",
                titleColor="black", titlePadding=7)),
        ))
    props = dict(width=PANEL_W, height=PANEL_H)
    if ri == 0:
        props["title"] = alt.TitleParams(approach, fontSize=14, font=FONT, fontWeight="normal",
                                         color="black", offset=2)
    return alt.layer(*layers).properties(**props)


panels = [panel(r, c) for r in range(2) for c in range(3)]

chart = alt.concat(*panels, columns=3, spacing={"row": 15, "column": 17}, bounds="flush").properties(
    padding={"left": 2, "top": 0, "right": 0, "bottom": 0}
).configure_view(stroke="#222222", strokeWidth=1).configure(font=FONT)

chart.save("out.html", embed_options={"renderer": "svg", "actions": False})
